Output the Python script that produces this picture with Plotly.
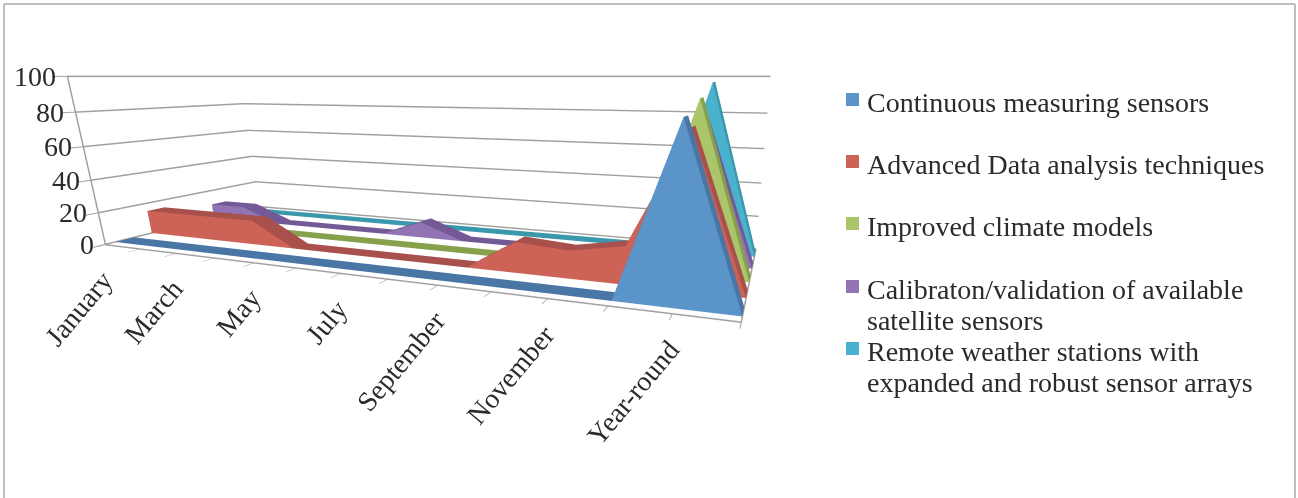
import plotly.graph_objects as go

# Monthly ribbons; the last slot is an empty category that closes each area at zero
categories = ["January", "February", "March", "April", "May", "June", "July",
              "August", "September", "October", "November", "December",
              "Year-round", ""]
continuous_sensors = [0, 0, 0, 0, 0, 0, 0, 0, 0, 0, 0, 0, 84, 0]
data_analysis = [15, 15, 15, 15, 0, 0, 0, 0, 0, 17, 15, 20, 78, 0]
climate_models = [0, 0, 0, 0, 0, 0, 0, 0, 0, 0, 0, 0, 90, 0]
calibration = [10, 10, 0, 0, 0, 0, 10, 0, 0, 0, 0, 0, 80, 0]
weather_stations = [0, 0, 0, 0, 0, 0, 0, 0, 0, 0, 0, 0, 97, 0]

series_names = [["Continuous measuring sensors"],
                ["Advanced Data analysis techniques"],
                ["Improved climate models"],
                ["Calibraton/validation of available", "satellite sensors"],
                ["Remote weather stations with", "expanded and robust sensor arrays"]]
series_values = [continuous_sensors, data_analysis, climate_models, calibration, weather_stations]
front_colors = ["#5B94C9", "#CD6257", "#AAC56A", "#9273B4", "#4BB2CD"]
top_colors = ["#4A76A5", "#A8504C", "#86A04C", "#735A96", "#3A98AC"]
value_ticks = [0, 20, 40, 60, 80, 100]

FONT = "Liberation Serif"
TEXT = "#2b2b2b"


def ribbon(values, row, front, top):
    """One area row: a front face standing on the floor plus a sloped top band."""
    y_front, y_back = row + 0.25, row + 0.75
    xs, ys, zs, i, j, k, colors = [], [], [], [], [], [], []
    n = len(values)
    for c, v in enumerate(values):
        xs += [c, c, c]
        ys += [y_front, y_front, y_back]
        zs += [0, v, v]
    for c in range(n - 1):
        a0, b0, c0 = 3 * c, 3 * c + 1, 3 * c + 2
        a1, b1, c1 = a0 + 3, b0 + 3, c0 + 3
        i += [a0, b0, b0, c0]
        j += [b0, b1, c0, c1]
        k += [a1, a1, b1, b1]
        colors += [front, front, top, top]
    return go.Mesh3d(x=xs, y=ys, z=zs, i=i, j=j, k=k, facecolor=colors,
                     flatshading=True, hoverinfo="skip",
                     lighting=dict(ambient=1, diffuse=0, specular=0, fresnel=0, roughness=1))


fig = go.Figure()
for row, (vals, fc, tc) in enumerate(zip(series_values, front_colors, top_colors)):
    fig.add_trace(ribbon(vals, row, fc, tc))

# Axis labels sit in the scene so they follow the data scale
labels = []
for c, name in enumerate(categories):
    if name and c % 2 == 0:
        labels.append(dict(x=c, y=0, z=0, text=name, textangle=-50, showarrow=False,
                           xanchor="right", yanchor="top", xshift=16, yshift=-18,
                           font=dict(family=FONT, size=28, color=TEXT)))
for v in value_ticks:
    labels.append(dict(x=0, y=0, z=v, text=str(v), showarrow=False, xanchor="right",
                       xshift=-9, font=dict(family=FONT, size=28, color=TEXT)))

GRID = "#a0a0a0"
fig.update_layout(
    width=1298, height=498, margin=dict(l=0, r=0, t=0, b=0),
    paper_bgcolor="white", showlegend=False,
    scene=dict(
        domain=dict(x=[0, 0.8937], y=[0, 1]),
        aspectmode="manual", aspectratio=dict(x=3.775, y=1.17, z=0.99),
        camera=dict(eye=dict(x=1.9925, y=-3.015, z=0.495), center=dict(x=1.0725, y=-0.282, z=-0.333),
                    up=dict(x=0, y=0, z=1), projection=dict(type="perspective")),
        xaxis=dict(range=[0, 13], tickvals=list(range(14)), ticktext=[""] * 14, title="",
                   showgrid=False, showline=True, linecolor=GRID, linewidth=3, ticks="outside",
                   ticklen=10, tickwidth=2, tickcolor=GRID, showbackground=True, backgroundcolor="white",
                   zeroline=False, showspikes=False),
        yaxis=dict(range=[0, 5], tickvals=[], title="", showgrid=False, showline=True,
                   linecolor=GRID, linewidth=3, showbackground=True, backgroundcolor="white",
                   zeroline=False, showspikes=False),
        zaxis=dict(range=[-0.3, 100], tickvals=value_ticks, ticktext=[""] * 6, title="",
                   showgrid=True, gridcolor=GRID, gridwidth=3, showline=True, linecolor=GRID,
                   linewidth=3, ticks="outside", ticklen=8, tickwidth=2, tickcolor=GRID, showbackground=True,
                   backgroundcolor="white", zeroline=False, showspikes=False),
        annotations=labels,
    ),
)

# Legend column and page frame, placed in paper space
legend_rows = [102, 164, 226, 289, 351]
H, W = 498, 1298
line_gap = 31
for ys, lines, fc in zip(legend_rows, series_names, front_colors):
    fig.add_shape(type="rect", xref="paper", yref="paper", x0=846 / W, x1=859 / W,
                  y0=1 - (ys - 9) / H, y1=1 - (ys + 4) / H, fillcolor=fc, line_width=0)
    for n, line in enumerate(lines):
        fig.add_annotation(xref="paper", yref="paper", x=865 / W, y=1 - (ys + n * line_gap) / H,
                           text=line, showarrow=False, xanchor="left", yanchor="middle",
                           font=dict(family=FONT, size=28, color=TEXT))
frame = "#a9a9a9"
for x0, y0, x1, y1 in [(4, 4, 1295, 4), (4, 4, 4, 498), (1295, 4, 1295, 498)]:
    fig.add_shape(type="line", xref="paper", yref="paper", x0=x0 / W, x1=x1 / W,
                  y0=1 - y0 / H, y1=1 - y1 / H, line=dict(color=frame, width=1.5))

fig.write_html("out.html", config={"displayModeBar": False})
